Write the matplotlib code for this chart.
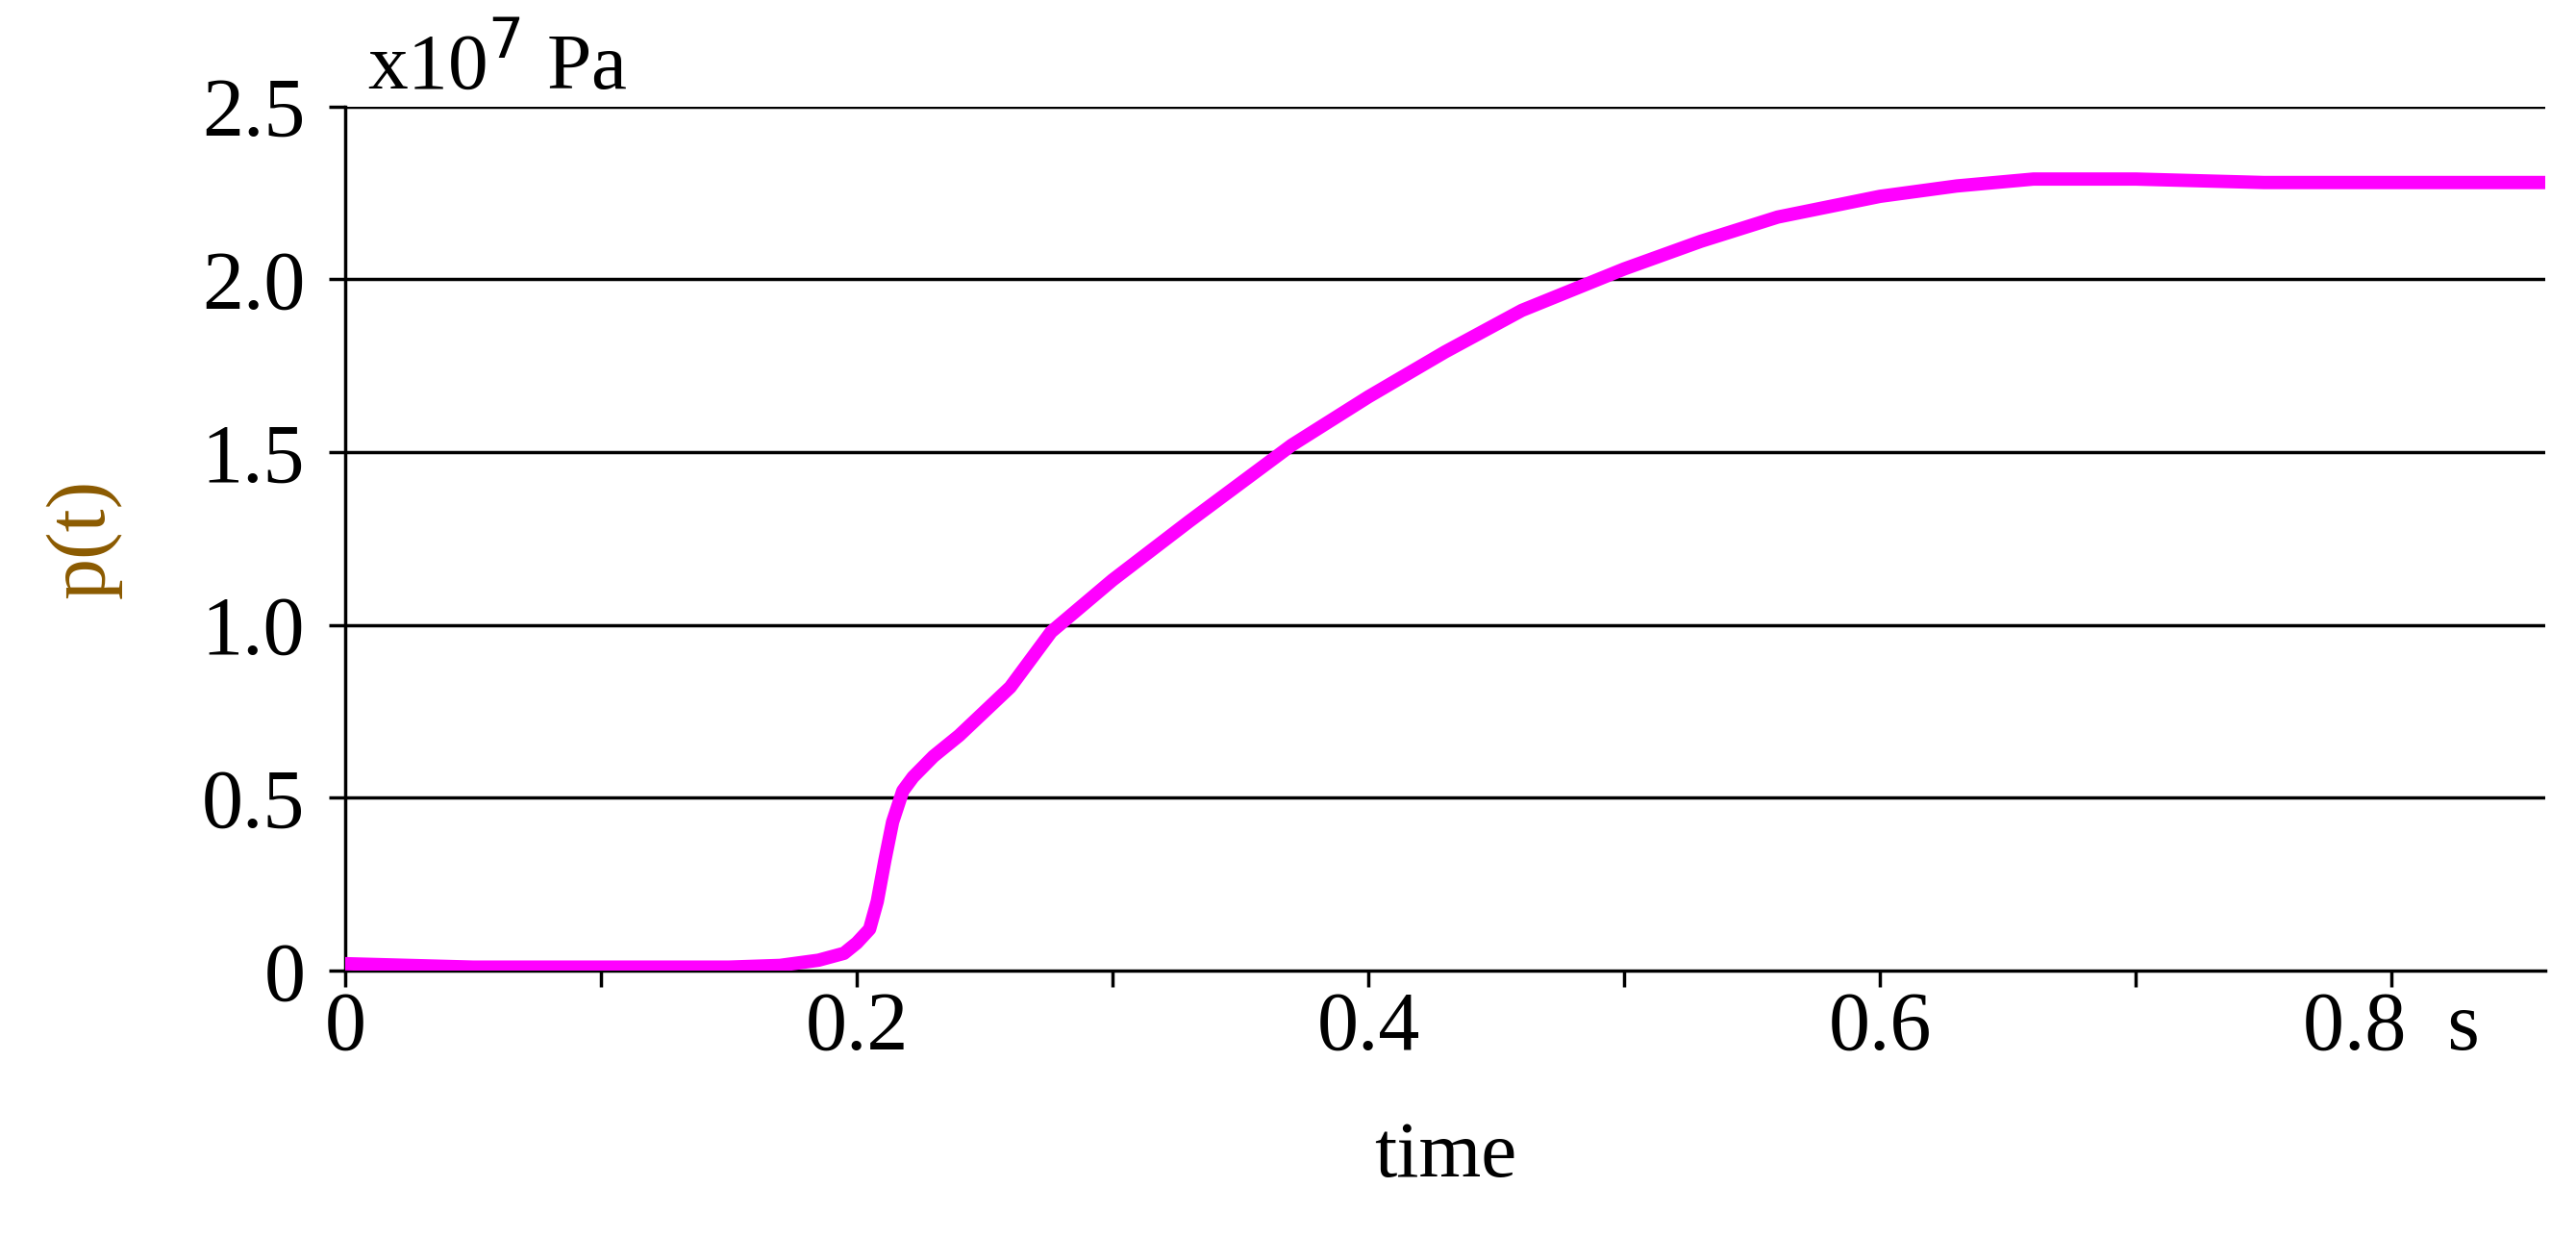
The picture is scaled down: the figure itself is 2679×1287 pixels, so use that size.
import matplotlib.pyplot as plt
from matplotlib.ticker import MultipleLocator

t = [0.0, 0.05, 0.10, 0.15, 0.17, 0.185, 0.195, 0.200, 0.205, 0.208, 0.211, 0.214, 0.218,
     0.222, 0.23, 0.24, 0.26, 0.276, 0.30, 0.33, 0.37, 0.40, 0.43, 0.46, 0.50, 0.53,
     0.56, 0.60, 0.63, 0.66, 0.70, 0.75, 0.80, 0.86]
p = [0.02, 0.01, 0.01, 0.01, 0.015, 0.03, 0.05, 0.08, 0.12, 0.20, 0.32, 0.43, 0.52,
     0.56, 0.62, 0.68, 0.82, 0.98, 1.13, 1.30, 1.52, 1.66, 1.79, 1.91, 2.03, 2.11,
     2.18, 2.24, 2.27, 2.29, 2.29, 2.28, 2.28, 2.28]
xticks = [0, 0.2, 0.4, 0.6, 0.8]
xlabels = ['0', '0.2', '0.4', '0.6', '0.8  s']
yticks = [0, 0.5, 1.0, 1.5, 2.0, 2.5]
ylabels = ['0', '0.5', '1.0', '1.5', '2.0', '2.5']

plt.rcParams['font.family'] = ['Liberation Serif', 'DejaVu Serif']
fig = plt.figure(figsize=(26.79, 12.87), dpi=100)
ax = fig.add_axes([0.134, 0.216, 0.854, 0.698])
for y in yticks[1:]:
    ax.axhline(y, color='black', lw=2.5, zorder=1)
ax.plot(t, p, color='#ff00ff', lw=10, solid_capstyle='round', zorder=3)
ax.set_xlim(0, 0.86)
ax.set_ylim(0, 2.5)
ax.set_xticks(xticks)
ax.set_xticklabels(xlabels)
ax.xaxis.set_minor_locator(MultipleLocator(0.1))
ax.set_yticks(yticks)
ax.set_yticklabels(ylabels)
ax.tick_params(labelsize=62, width=2.5, length=12, direction='out')
ax.tick_params(axis='y', pad=18)
ax.tick_params(which='minor', width=2.5, length=12)
for s in ['top', 'right']:
    ax.spines[s].set_visible(False)
for s in ['left', 'bottom']:
    ax.spines[s].set_linewidth(2.5)
ax.set_xlabel('time', fontsize=60, labelpad=40)
ax.set_ylabel('p(t)', fontsize=62, color='#8b5a00', labelpad=60)
ax.text(0.01, 1.0, 'x10$^7$ Pa', transform=ax.transAxes, fontsize=60, va='bottom')
fig.savefig('out.png')
